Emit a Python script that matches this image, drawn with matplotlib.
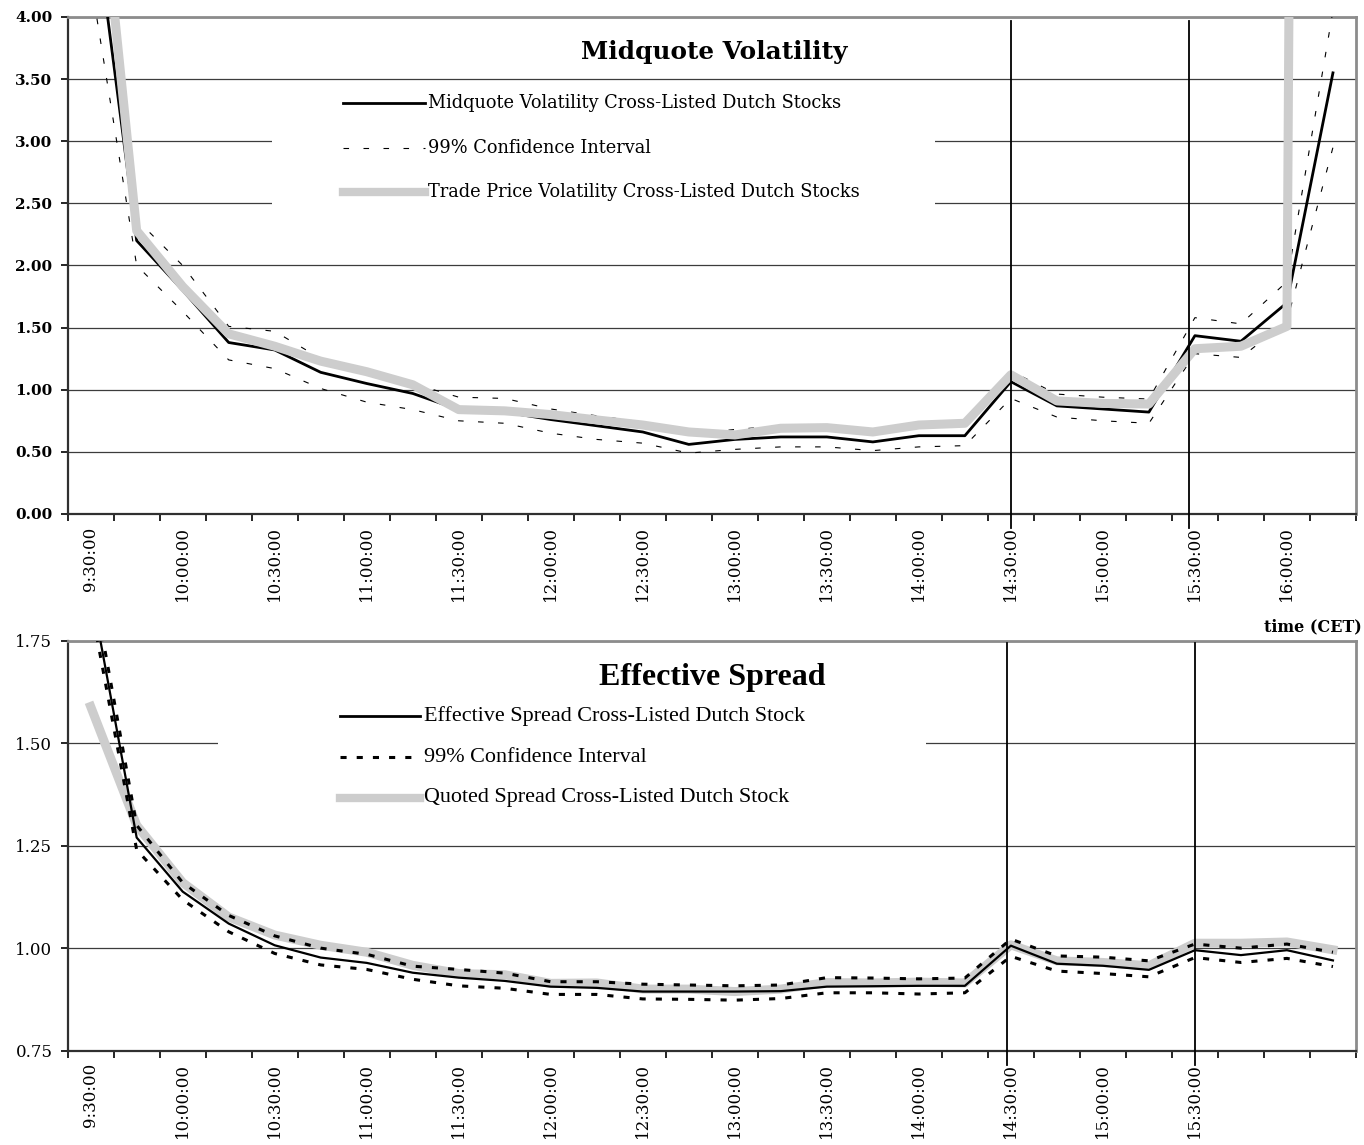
import numpy as np
import matplotlib
matplotlib.use("Agg")
from matplotlib import pyplot as plt
from matplotlib.patches import Rectangle
from matplotlib.transforms import blended_transform_factory

# 15 minute intervals, 9:30 to 16:15
times = ['9:30:00', '9:45:00', '10:00:00', '10:15:00', '10:30:00', '10:45:00',
         '11:00:00', '11:15:00', '11:30:00', '11:45:00', '12:00:00', '12:15:00',
         '12:30:00', '12:45:00', '13:00:00', '13:15:00', '13:30:00', '13:45:00',
         '14:00:00', '14:15:00', '14:30:00', '14:45:00', '15:00:00', '15:15:00',
         '15:30:00', '15:45:00', '16:00:00', '16:15:00']

# midquote volatility panel
mid_vol = [5.05, 2.20, 1.80, 1.38, 1.32, 1.14, 1.05, 0.97, 0.84, 0.82, 0.76, 0.71,
           0.66, 0.56, 0.60, 0.62, 0.62, 0.58, 0.63, 0.63, 1.065, 0.87, 0.845, 0.82,
           1.435, 1.39, 1.70, 3.55]
mid_ci_hi = [6.0, 2.37, 2.00, 1.51, 1.47, 1.25, 1.13, 1.05, 0.94, 0.93, 0.845, 0.79,
             0.74, 0.64, 0.68, 0.71, 0.69, 0.66, 0.72, 0.735, 1.15, 0.965, 0.94, 0.925,
             1.58, 1.53, 1.87, 4.05]
mid_ci_lo = [4.3, 2.00, 1.63, 1.24, 1.17, 1.01, 0.90, 0.84, 0.75, 0.73, 0.65, 0.60,
             0.57, 0.49, 0.52, 0.54, 0.54, 0.51, 0.54, 0.55, 0.93, 0.78, 0.75, 0.73,
             1.29, 1.26, 1.55, 2.95]
trade_vol = [5.9, 2.28, 1.83, 1.45, 1.35, 1.23, 1.145, 1.04, 0.84, 0.83, 0.80, 0.757,
             0.716, 0.66, 0.636, 0.69, 0.695, 0.66, 0.716, 0.73, 1.12, 0.91, 0.89, 0.885,
             1.33, 1.35, 1.51, 60.0]

# effective spread panel
eff_spread = [1.88, 1.27, 1.138, 1.06, 1.007, 0.977, 0.964, 0.94, 0.928, 0.92, 0.906,
              0.903, 0.894, 0.894, 0.894, 0.895, 0.906, 0.907, 0.908, 0.908, 1.006,
              0.962, 0.957, 0.947, 0.995, 0.983, 0.995, 0.97]
eff_ci_hi = [1.92, 1.30, 1.16, 1.08, 1.03, 1.00, 0.985, 0.956, 0.948, 0.939, 0.918,
             0.918, 0.912, 0.91, 0.908, 0.91, 0.928, 0.927, 0.925, 0.927, 1.022, 0.981,
             0.978, 0.969, 1.01, 1.00, 1.01, 0.99]
eff_ci_lo = [1.84, 1.24, 1.118, 1.04, 0.987, 0.959, 0.948, 0.924, 0.908, 0.902, 0.887,
             0.887, 0.876, 0.875, 0.873, 0.877, 0.891, 0.891, 0.888, 0.891, 0.98, 0.944,
             0.938, 0.93, 0.977, 0.965, 0.975, 0.955]
quoted_spread = [1.59, 1.30, 1.16, 1.076, 1.032, 1.007, 0.99, 0.958, 0.938, 0.935, 0.914,
                 0.915, 0.90, 0.90, 0.894, 0.90, 0.916, 0.915, 0.917, 0.915, 1.008, 0.969,
                 0.965, 0.957, 1.012, 1.012, 1.015, 0.996]

top_labels = ['Midquote Volatility Cross-Listed Dutch Stocks', '99% Confidence Interval',
              'Trade Price Volatility Cross-Listed Dutch Stocks']
bot_labels = ['Effective Spread Cross-Listed Dutch Stock', '99% Confidence Interval',
              'Quoted Spread Cross-Listed Dutch Stock']

GRAY = '#cdcdcd'
x = np.arange(len(times))

fig = plt.figure(figsize=(13.64, 11.45), dpi=100)
ax1 = fig.add_axes([0.0496, 0.5511, 0.9445, 0.4341])
ax2 = fig.add_axes([0.0496, 0.0825, 0.9445, 0.3577])


def setup_axis(ax, labels, ylim, ystep, ybold):
    ax.set_xlim(-0.5, len(times) - 0.5)
    ax.set_ylim(*ylim)
    ax.set_xticks(np.arange(-0.5, len(times), 1))
    ax.set_xticklabels([])
    ax.set_xticks(np.arange(0, len(labels) * 2, 2), minor=True)
    ax.set_xticklabels(labels, minor=True, rotation=90, family='DejaVu Serif', fontsize=12)
    ax.tick_params(axis='x', which='major', length=5, width=1.2, direction='out')
    ax.tick_params(axis='x', which='minor', length=0, pad=9)
    yt = np.arange(ylim[0], ylim[1] + 1e-9, ystep)
    ax.set_yticks(yt)
    ax.set_yticklabels(['%.2f' % v for v in yt], family='DejaVu Serif',
                       fontsize=11 if ybold else 12, fontweight='bold' if ybold else 'normal')
    ax.tick_params(axis='y', length=5, width=1.2, pad=6)
    ax.set_axisbelow(True)
    ax.yaxis.grid(True, color='#3c3c3c', lw=0.9)
    for s in ['top', 'right']:
        ax.spines[s].set_color('#8c8c8c')
        ax.spines[s].set_linewidth(2)
    for s in ['left', 'bottom']:
        ax.spines[s].set_color('#303030')
        ax.spines[s].set_linewidth(1.6)


# ---- top panel ----
setup_axis(ax1, times[0:27:2], (0, 4), 0.5, True)
ax1.plot(x, mid_vol, color='black', lw=2, zorder=3)
ax1.plot(x, mid_ci_hi, color='black', lw=0.8, ls=(0, (5, 13)), zorder=3)
ax1.plot(x, mid_ci_lo, color='black', lw=0.8, ls=(0, (5, 13)), zorder=3)
ax1.plot(x, trade_vol, color=GRAY, lw=6.5, zorder=4)

tr1 = blended_transform_factory(ax1.transData, ax1.transAxes)
for xv in [20.0, 23.87]:
    ax1.plot([xv, xv], [-0.028, 0.992], transform=tr1, color='black', lw=1.3,
             clip_on=False, zorder=5)

ax1.add_patch(Rectangle((0.1586, 0.6016), 0.5147, 0.25, transform=ax1.transAxes,
                        facecolor='white', edgecolor='none', zorder=1))
ax1.text(0.5018, 0.9296, 'Midquote Volatility', transform=ax1.transAxes, ha='center',
         va='center', family='DejaVu Serif', fontweight='bold', fontsize=17.8)
styles_top = [dict(color='black', lw=2),
              dict(color='black', lw=0.8, ls=(0, (5, 13))),
              dict(color=GRAY, lw=6)]
for yy, lab, st in zip([0.827, 0.736, 0.648], top_labels, styles_top):
    ax1.plot([0.2137, 0.2773], [yy, yy], transform=ax1.transAxes, **st)
    ax1.text(0.2796, yy, lab, transform=ax1.transAxes, ha='left', va='center',
             family='DejaVu Serif', fontsize=12.8)

fig.text(1362 / 1364, 1 - 627 / 1145, 'time (CET)', ha='right', va='center',
         family='DejaVu Serif', fontweight='bold', fontsize=11.5)

# ---- bottom panel ----
setup_axis(ax2, times[0:25:2], (0.75, 1.75), 0.25, False)
ax2.plot(x, quoted_spread, color=GRAY, lw=6.5, zorder=2)
ax2.plot(x, eff_ci_hi, color='black', lw=2.2, ls=(0, (2, 3.3)), zorder=3)
ax2.plot(x, eff_ci_lo, color='black', lw=2.2, ls=(0, (2, 3.3)), zorder=3)
ax2.plot(x, eff_spread, color='black', lw=1.6, zorder=4)

tr2 = blended_transform_factory(ax2.transData, ax2.transAxes)
for xv in [19.91, 24.0]:
    ax2.plot([xv, xv], [-0.035, 0.995], transform=tr2, color='black', lw=1.3,
             clip_on=False, zorder=5)

ax2.add_patch(Rectangle((0.1167, 0.575), 0.5495, 0.28, transform=ax2.transAxes,
                        facecolor='white', edgecolor='none', zorder=1))
ax2.text(0.50, 0.912, 'Effective Spread', transform=ax2.transAxes, ha='center',
         va='center', family='Liberation Serif', fontweight='bold', fontsize=23)
styles_bot = [dict(color='black', lw=2),
              dict(color='black', lw=2.2, ls=(0, (2, 3.3))),
              dict(color=GRAY, lw=6)]
for yy, lab, st in zip([0.8168, 0.7167, 0.6166], bot_labels, styles_bot):
    ax2.plot([0.2114, 0.2736], [yy, yy], transform=ax2.transAxes, **st)
    ax2.text(0.2766, yy, lab, transform=ax2.transAxes, ha='left', va='center',
             family='Liberation Serif', fontsize=15.9)

fig.savefig('out.png', dpi=100)
